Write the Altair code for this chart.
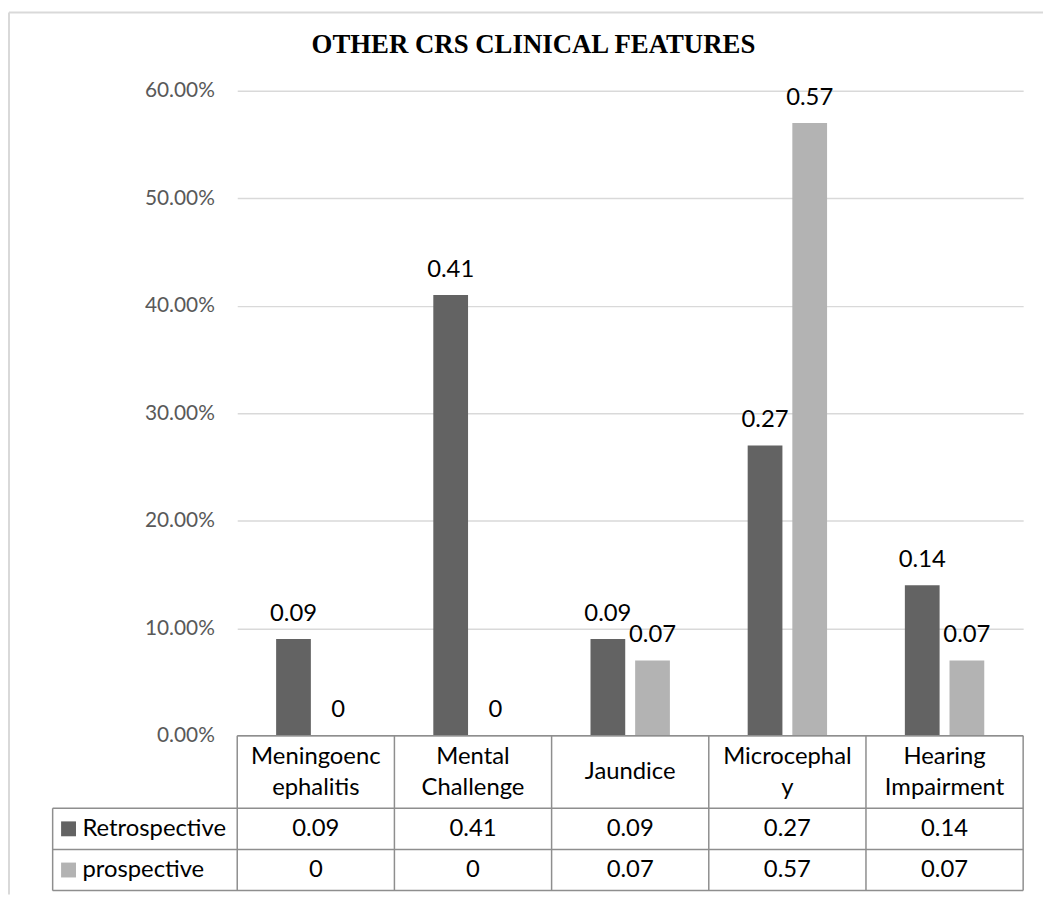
import altair as alt
import pandas as pd

# ---- data ----
categories = ["Meningoencephalitis", "Mental Challenge", "Jaundice", "Microcephaly", "Hearing Impairment"]
header_labels = ["Meningoenc\nephalitis", "Mental\nChallenge", "Jaundice", "Microcephal\ny", "Hearing\nImpairment"]
series = ["Retrospective", "prospective"]
retrospective = [0.09, 0.41, 0.09, 0.27, 0.14]
prospective = [0, 0, 0.07, 0.57, 0.07]
y_ticks = [0, 0.1, 0.2, 0.3, 0.4, 0.5, 0.6]
colors = ["#636363", "#b3b3b3"]
title_text = "OTHER CRS CLINICAL FEATURES"

W, H = 792, 650
FONT = "Lato"
LH = 31

rows = []
for s, vals in zip(series, [retrospective, prospective]):
    for c, v in zip(categories, vals):
        rows.append({"category": c, "series": s, "value": v})
df = pd.DataFrame(rows)
hdr = pd.DataFrame({"category": categories, "header": header_labels})
hdr["nlines"] = hdr["header"].str.count("\n") + 1
ser_df = pd.DataFrame({"series": series})
one = pd.DataFrame({"k": [0]})

xscale = alt.Scale(domain=categories, paddingInner=0, paddingOuter=0)
x_cat = alt.X("category:N", sort=categories, scale=xscale, axis=None)
x_off = alt.XOffset("series:N", sort=series,
                    scale=alt.Scale(domain=series, paddingInner=0.222, paddingOuter=0.871))
yscale = alt.Scale(domain=[0, 0.6], nice=False, zero=True)
color = alt.Color("series:N", scale=alt.Scale(domain=series, range=colors), legend=None)

bars = alt.Chart(df).mark_bar().encode(
    x=x_cat, xOffset=x_off,
    y=alt.Y("value:Q", scale=yscale, title=None,
            axis=alt.Axis(values=y_ticks, format=".2%", grid=True, gridColor="#d9d9d9",
                          gridWidth=1.5, domain=False, ticks=False, labelPadding=23,
                          labelFontSize=21, labelFont=FONT, labelColor="#595959")),
    color=color,
)

bar_labels = alt.Chart(df).mark_text(
    baseline="alphabetic", dy=-18.5, fontSize=24, font=FONT, color="black"
).encode(
    x=x_cat, xOffset=x_off,
    y=alt.Y("value:Q", scale=yscale),
    text=alt.Text("value:Q", format=".2~f"),
)

line_color = "#8e8e8e"
HDR_MID = 687

# table header row (one- and two-line labels centred in the header cell)
header_one = alt.Chart(hdr).transform_filter("datum.nlines == 1").mark_text(
    lineBreak="\n", lineHeight=LH, fontSize=24, font=FONT, color="black",
    align="center", baseline="middle"
).encode(x=x_cat, y=alt.value(HDR_MID), text="header:N")
header_two = alt.Chart(hdr).transform_filter("datum.nlines == 2").mark_text(
    lineBreak="\n", lineHeight=LH, fontSize=24, font=FONT, color="black",
    align="center", baseline="middle"
).encode(x=x_cat, y=alt.value(HDR_MID - LH / 2), text="header:N")

header_top = alt.Chart(one).mark_rule(color=line_color, strokeWidth=1.5).encode(
    y=alt.datum(0), x=alt.value(0), x2=alt.value(W))

col_lines = alt.Chart(hdr).mark_rule(color=line_color, strokeWidth=1.5).encode(
    x=alt.X("category:N", sort=categories, scale=xscale, axis=None, bandPosition=0),
    y=alt.value(H), y2=alt.value(806))
right_line = alt.Chart(hdr.tail(1)).mark_rule(color=line_color, strokeWidth=1.5).encode(
    x=alt.X("category:N", sort=categories, scale=xscale, axis=None, bandPosition=1),
    y=alt.value(H), y2=alt.value(806))

top_layer = alt.layer(bars, bar_labels, header_one, header_two, header_top, col_lines, right_line)

# table value rows (own band scale for rows)
rscale = alt.Scale(domain=series, range=[723, 806], paddingInner=0, paddingOuter=0)
y_row = alt.Y("series:N", sort=series, scale=rscale, axis=None)

values_text = alt.Chart(df).mark_text(
    fontSize=24, font=FONT, color="black", align="center", baseline="middle"
).encode(x=x_cat, y=y_row, text=alt.Text("value:Q", format=".2~f"))

row_text = alt.Chart(ser_df).mark_text(
    fontSize=24, font=FONT, color="black", align="left", baseline="middle"
).encode(x=alt.value(-156), y=y_row, text="series:N")

swatches = alt.Chart(ser_df).mark_square(size=225, opacity=1).encode(
    x=alt.value(-170), y=y_row, color=color)

row_lines_top = alt.Chart(ser_df).mark_rule(color=line_color, strokeWidth=1.5).encode(
    y=alt.Y("series:N", sort=series, scale=rscale, axis=None, bandPosition=0),
    x=alt.value(-186), x2=alt.value(W))
row_line_bottom = alt.Chart(ser_df.tail(1)).mark_rule(color=line_color, strokeWidth=1.5).encode(
    y=alt.Y("series:N", sort=series, scale=rscale, axis=None, bandPosition=1),
    x=alt.value(-186), x2=alt.value(W))
left_box = alt.Chart(one).mark_rule(color=line_color, strokeWidth=1.5).encode(
    x=alt.value(-186), y=alt.value(723), y2=alt.value(806))

table_layer = alt.layer(values_text, row_text, swatches, row_lines_top, row_line_bottom, left_box)

# title and outer frame
title = alt.Chart(one).mark_text(
    text=title_text, font="Liberation Serif", fontWeight="bold", fontSize=27,
    color="black", align="center", baseline="middle"
).encode(x=alt.value(298.5), y=alt.value(-46))

frame_left = alt.Chart(one).mark_rule(color="#d9d9d9", strokeWidth=2).encode(
    x=alt.value(-230), y=alt.value(-79), y2=alt.value(H + 160))
frame_top = alt.Chart(one).mark_rule(color="#d9d9d9", strokeWidth=2).encode(
    y=alt.value(-79), x=alt.value(-230), x2=alt.value(W + 20))

chart = alt.layer(top_layer, table_layer, title, frame_left, frame_top).resolve_scale(
    y="independent"
).properties(
    width=W, height=H,
    autosize=alt.AutoSizeParams(type="none"),
    padding={"left": 231, "top": 80, "right": 20, "bottom": 158},
).configure_view(strokeWidth=0)

chart.save("out.html", embed_options={"renderer": "svg", "actions": False})
